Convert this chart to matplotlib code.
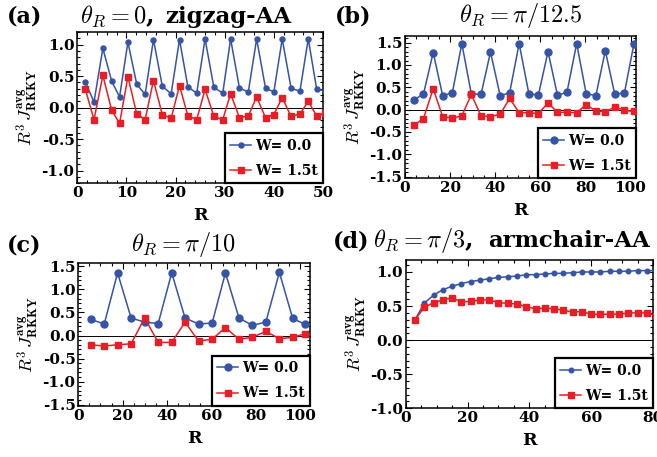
import numpy as np
import matplotlib
matplotlib.use("Agg")
import matplotlib.pyplot as plt
from matplotlib.ticker import AutoMinorLocator, MultipleLocator, FormatStrFormatter

plt.rcParams['mathtext.fontset'] = 'cm'
plt.rcParams['font.family'] = 'DejaVu Serif'
plt.rcParams['font.weight'] = 'bold'

BLUE = '#3654a5'
RED = '#e91d25'

# panel (a): theta_R = 0, zigzag-AA
xa = [1.6, 3.4, 5.2, 7.0, 8.6, 10.3, 12.1, 13.8, 15.5, 17.3, 19.1, 20.8, 22.5, 24.3, 26.0,
      27.8, 29.6, 31.2, 33.0, 34.8, 36.5, 38.3, 40.0, 41.7, 43.5, 45.3, 47.0, 48.7, 50.4]
a_clean = [0.41, 0.09, 0.94, 0.42, 0.17, 1.04, 0.37, 0.21, 1.08, 0.34, 0.22, 1.08, 0.33, 0.23, 1.09,
           0.32, 0.23, 1.09, 0.31, 0.25, 1.09, 0.31, 0.25, 1.09, 0.31, 0.26, 1.09, 0.30, 0.26]
a_dis = [0.30, -0.19, 0.51, -0.04, -0.25, 0.49, -0.10, -0.19, 0.43, -0.11, -0.17, 0.35, -0.13, -0.19, 0.29,
         -0.14, -0.19, 0.22, -0.16, -0.13, 0.17, -0.16, -0.11, 0.16, -0.14, -0.10, 0.10, -0.13, -0.09]

# panel (b): theta_R = pi/12.5
xb = [4.0, 8.2, 12.5, 16.7, 21.0, 25.2, 29.4, 33.7, 37.9, 42.2, 46.4, 50.6,
      54.9, 59.1, 63.4, 67.6, 71.8, 76.1, 80.3, 84.6, 88.8, 93.0, 97.3, 101.5]
b_clean = [0.22, 0.35, 1.28, 0.31, 0.38, 1.48, 0.35, 0.34, 1.29, 0.31, 0.38, 1.48,
           0.36, 0.32, 1.30, 0.32, 0.39, 1.48, 0.36, 0.31, 1.32, 0.34, 0.38, 1.48]
b_dis = [-0.35, -0.20, 0.47, -0.16, -0.19, -0.14, 0.34, -0.14, -0.16, -0.10, 0.25, -0.07,
         -0.07, -0.09, 0.15, -0.06, -0.06, -0.07, 0.11, -0.03, -0.05, 0.06, -0.02, -0.04]

# panel (c): theta_R = pi/10
xc = [5.6, 11.7, 17.7, 23.8, 29.9, 36.0, 42.1, 48.1, 54.2, 60.3, 66.3, 72.4,
      78.4, 84.5, 90.6, 96.6, 102.3]
c_clean = [0.35, 0.25, 1.36, 0.38, 0.29, 0.26, 1.36, 0.38, 0.25, 0.27, 1.36, 0.38,
           0.22, 0.29, 1.37, 0.37, 0.24]
c_dis = [-0.20, -0.23, -0.20, -0.18, 0.38, -0.15, -0.15, 0.29, -0.12, -0.08, 0.17, -0.08,
         -0.04, 0.09, -0.07, -0.04, 0.04]

# panel (d): theta_R = pi/3, armchair-AA
xd = [3, 6, 9, 12, 15, 18, 21, 24, 27, 30, 33, 36, 39, 42, 45, 48, 51, 54,
      57, 60, 63, 66, 69, 72, 75, 78, 81]
d_clean = [0.30, 0.54, 0.66, 0.74, 0.79, 0.83, 0.86, 0.88, 0.90, 0.92, 0.93, 0.94, 0.96, 0.96,
           0.97, 0.98, 0.98, 0.99, 1.00, 1.00, 1.00, 1.01, 1.01, 1.01, 1.02, 1.02, 1.02]
d_dis = [0.30, 0.48, 0.55, 0.59, 0.62, 0.56, 0.57, 0.59, 0.59, 0.55, 0.54, 0.53, 0.49, 0.46,
         0.47, 0.46, 0.44, 0.41, 0.42, 0.38, 0.38, 0.38, 0.38, 0.40, 0.40, 0.40, 0.36]

W, H = 657, 457
fig = plt.figure(figsize=(W / 100, H / 100), dpi=100)


def box(l, t, r, b):
    return [l / W, 1 - b / H, (r - l) / W, (b - t) / H]


panels = [
    dict(rect=box(77.3, 32, 323, 183.3), x=xa, c=a_clean, d=a_dis, xlim=(0, 50), ylim=(-1.2, 1.2),
         xmaj=10, xmin=5, yticks=[-1.0, -0.5, 0.0, 0.5, 1.0], ms=(3.6, 4.2)),
    dict(rect=box(405, 36, 636, 178.3), x=xb, c=b_clean, d=b_dis, xlim=(0, 102.4), ylim=(-1.54, 1.65),
         xmaj=20, xmin=4, yticks=[-1.5, -1.0, -0.5, 0.0, 0.5, 1.0, 1.5], ms=(5.0, 4.8)),
    dict(rect=box(78.3, 262.7, 310, 406), x=xc, c=c_clean, d=c_dis, xlim=(0, 104.4), ylim=(-1.53, 1.58),
         xmaj=20, xmin=4, yticks=[-1.5, -1.0, -0.5, 0.0, 0.5, 1.0, 1.5], ms=(5.0, 4.8)),
    dict(rect=box(405.7, 259.7, 653, 408.3), x=xd, c=d_clean, d=d_dis, xlim=(0, 80), ylim=(-1.0, 1.18),
         xmaj=20, xmin=4, yticks=[-1.0, -0.5, 0.0, 0.5, 1.0], ms=(3.3, 3.8)),
]

for p in panels:
    ax = fig.add_axes(p['rect'])
    ax.axhline(0, color='black', lw=0.7, zorder=1)
    ax.plot(p['x'], p['c'], '-o', color=BLUE, lw=1.1, ms=p['ms'][0], label='W= 0.0', zorder=3)
    ax.plot(p['x'], p['d'], '-s', color=RED, lw=1.1, ms=p['ms'][1], label='W= 1.5t', zorder=3)
    ax.set_xlim(*p['xlim'])
    ax.set_ylim(*p['ylim'])
    ax.xaxis.set_major_locator(MultipleLocator(p['xmaj']))
    ax.xaxis.set_minor_locator(AutoMinorLocator(p['xmin']))
    ax.set_yticks(p['yticks'])
    ax.yaxis.set_minor_locator(AutoMinorLocator(5))
    ax.xaxis.set_major_formatter(FormatStrFormatter('%d'))
    ax.yaxis.set_major_formatter(FormatStrFormatter('%.1f'))
    ax.tick_params(which='both', direction='in', top=True, right=True, labelsize=11, pad=2, width=0.8)
    ax.tick_params(which='major', length=4)
    ax.tick_params(which='minor', length=2)
    for s in ax.spines.values():
        s.set_linewidth(1.1)
    ax.set_xlabel('R', fontsize=12.5, fontweight='bold', labelpad=5)
    ax.set_ylabel(r'$R^3\,J^{\mathbf{avg}}_{\mathbf{RKKY}}$', fontsize=13, labelpad=1)
    leg = ax.legend(loc='lower right', bbox_to_anchor=(1, 0), borderaxespad=0, fancybox=False,
                    fontsize=10, handlelength=1.5, handletextpad=0.25, borderpad=0.4,
                    labelspacing=0.8, framealpha=1)
    leg.get_frame().set_edgecolor('black')
    leg.get_frame().set_linewidth(1.6)

# panel letters and titles (baselines in figure pixels)
ms_ = 17.5
bs = 16.5
fig.text(7 / W, 1 - 23 / H, '(a)', fontsize=16, ha='left', va='baseline')
fig.text(80 / W, 1 - 23 / H, r'$\theta_R=0$,', fontsize=ms_, ha='left', va='baseline')
fig.text(165 / W, 1 - 23 / H, 'zigzag-AA', fontsize=bs, ha='left', va='baseline')
fig.text(335 / W, 1 - 22 / H, '(b)', fontsize=16, ha='left', va='baseline')
fig.text(521 / W, 1 - 22 / H, r'$\theta_R=\pi/12.5$', fontsize=ms_, ha='center', va='baseline')
fig.text(7 / W, 1 - 251 / H, '(c)', fontsize=16, ha='left', va='baseline')
fig.text(183 / W, 1 - 251 / H, r'$\theta_R=\pi/10$', fontsize=ms_, ha='center', va='baseline')
fig.text(333 / W, 1 - 247 / H, '(d)', fontsize=16, ha='left', va='baseline')
fig.text(373 / W, 1 - 247 / H, r'$\theta_R=\pi/3$,', fontsize=ms_, ha='left', va='baseline')
fig.text(488 / W, 1 - 247 / H, 'armchair-AA', fontsize=bs, ha='left', va='baseline')

fig.savefig('out.png', dpi=100)
